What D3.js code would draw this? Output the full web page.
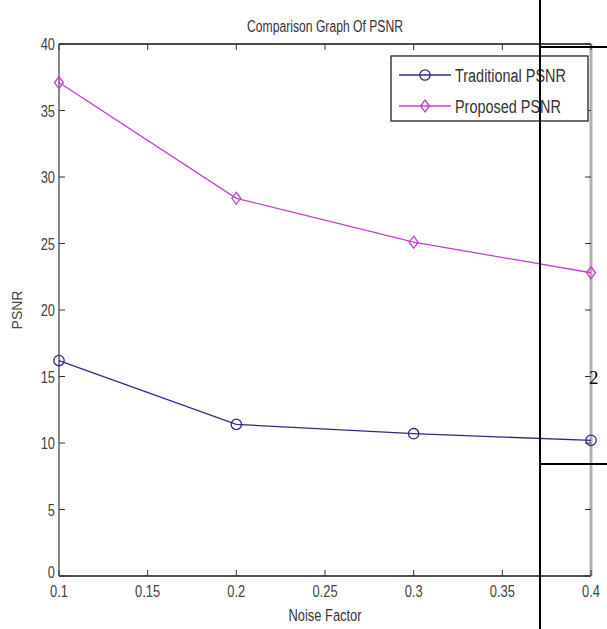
<!DOCTYPE html>
<html>
<head>
<meta charset="utf-8">
<script src="https://cdn.jsdelivr.net/npm/d3@7"></script>
<style>
  html, body { margin: 0; padding: 0; background: #fff; }
  svg { display: block; }
</style>
</head>
<body>
<script>
// chart values
const noiseFactor = [0.1, 0.2, 0.3, 0.4];
const traditionalPsnr = [16.2, 11.4, 10.7, 10.2];
const proposedPsnr = [37.1, 28.4, 25.1, 22.8];
const seriesNames = ['Traditional PSNR', 'Proposed PSNR'];
const xTicks = [0.1, 0.15, 0.2, 0.25, 0.3, 0.35, 0.4];
const yTicks = [0, 5, 10, 15, 20, 25, 30, 35, 40];

const width = 607;
const height = 629;
const plot = { left: 59, right: 591, top: 44, bottom: 576 };
const narrowFont = '"Liberation Sans", Arial, sans-serif';

const svg = d3.select('body').append('svg')
    .attr('width', width)
    .attr('height', height);

const x = d3.scaleLinear().domain([0.1, 0.4]).range([plot.left, plot.right]);
const y = d3.scaleLinear().domain([0, 40]).range([plot.bottom, plot.top]);

const tickColor = '#333';
const labelColor = '#444';

// Arial Narrow look-alike: squeeze Liberation Sans horizontally
function narrowText(parent, tx, ty, str, size, anchor, fill) {
    return parent.append('text')
        .attr('transform', `translate(${tx},${ty}) scale(0.76,1)`)
        .attr('font-family', narrowFont)
        .attr('font-size', size + 'px')
        .attr('text-anchor', anchor || 'start')
        .attr('fill', fill || labelColor)
        .text(str);
}

// box, MATLAB style
svg.append('line')
    .attr('x1', plot.left).attr('x2', plot.right)
    .attr('y1', plot.top).attr('y2', plot.top)
    .attr('stroke', '#111').attr('stroke-width', 1.5);
svg.append('line')
    .attr('x1', plot.left).attr('x2', plot.right)
    .attr('y1', plot.bottom).attr('y2', plot.bottom)
    .attr('stroke', '#111').attr('stroke-width', 1.5);
svg.append('line')
    .attr('x1', plot.left).attr('x2', plot.left)
    .attr('y1', plot.top).attr('y2', plot.bottom)
    .attr('stroke', '#888').attr('stroke-width', 2);
svg.append('line')
    .attr('x1', plot.right).attr('x2', plot.right)
    .attr('y1', plot.top).attr('y2', plot.bottom)
    .attr('stroke', '#b0b0b0').attr('stroke-width', 3);

// inward ticks on all four sides
const tickLen = 6;
const ticks = svg.append('g').attr('stroke', tickColor).attr('stroke-width', 1);
xTicks.forEach(t => {
    ticks.append('line').attr('x1', x(t)).attr('x2', x(t))
        .attr('y1', plot.bottom).attr('y2', plot.bottom - tickLen);
    ticks.append('line').attr('x1', x(t)).attr('x2', x(t))
        .attr('y1', plot.top).attr('y2', plot.top + tickLen);
});
yTicks.forEach(t => {
    ticks.append('line').attr('x1', plot.left).attr('x2', plot.left + tickLen)
        .attr('y1', y(t)).attr('y2', y(t));
    ticks.append('line').attr('x1', plot.right).attr('x2', plot.right - tickLen)
        .attr('y1', y(t)).attr('y2', y(t));
});

const xLabels = svg.append('g');
xTicks.forEach(t => {
    narrowText(xLabels, x(t), plot.bottom + 21, d3.format('~g')(t), 17, 'middle');
});

const yLabels = svg.append('g');
yTicks.forEach(t => {
    narrowText(yLabels, plot.left - 4, y(t) + (t === 0 ? 2 : 6), String(t), 17, 'end');
});

// titles
narrowText(svg, 325, 32, 'Comparison Graph Of PSNR', 16, 'middle', '#333');
narrowText(svg, 325, 621, 'Noise Factor', 17, 'middle', '#333');

svg.append('text')
    .attr('transform', 'translate(22,310) rotate(-90)')
    .attr('text-anchor', 'middle')
    .attr('font-family', '"Liberation Sans", Arial, sans-serif')
    .attr('font-size', '14px')
    .attr('fill', '#444')
    .text('PSNR');

// series
const series = [
    { name: seriesNames[0], values: traditionalPsnr, color: '#2c2c86', marker: 'circle' },
    { name: seriesNames[1], values: proposedPsnr, color: '#c040c8', marker: 'diamond' }
];

const line = d3.line()
    .x(d => x(d[0]))
    .y(d => y(d[1]));

const markerPath = type => {
    if (type === 'circle') {
        return d3.symbol().type(d3.symbolCircle).size(85)();
    }
    return 'M0,-6L4.5,0L0,6L-4.5,0Z';
};

series.forEach(s => {
    const pts = noiseFactor.map((n, i) => [n, s.values[i]]);
    svg.append('path')
        .datum(pts)
        .attr('fill', 'none')
        .attr('stroke', s.color)
        .attr('stroke-width', 1.3)
        .attr('d', line);
    svg.append('g')
        .selectAll('path')
        .data(pts)
        .enter().append('path')
        .attr('transform', d => `translate(${x(d[0])},${y(d[1])})`)
        .attr('d', markerPath(s.marker))
        .attr('fill', 'none')
        .attr('stroke', s.color)
        .attr('stroke-width', 1.3);
});

// legend
const legend = svg.append('g').attr('transform', 'translate(391,56)');
legend.append('rect')
    .attr('width', 197).attr('height', 65)
    .attr('fill', '#fff')
    .attr('stroke', '#222')
    .attr('stroke-width', 1.3);
series.forEach((s, i) => {
    const ly = 19 + i * 31;
    legend.append('line')
        .attr('x1', 8).attr('x2', 60)
        .attr('y1', ly).attr('y2', ly)
        .attr('stroke', s.color).attr('stroke-width', 1.3);
    legend.append('path')
        .attr('transform', `translate(34,${ly})`)
        .attr('d', markerPath(s.marker))
        .attr('fill', 'none')
        .attr('stroke', s.color)
        .attr('stroke-width', 1.3);
    narrowText(legend, 64, ly + 7, s.name, 19, 'start', '#333');
});

// black overlay lines and stray "2" from the source page
const overlay = svg.append('g').attr('stroke', '#000').attr('stroke-width', 2);
overlay.append('line').attr('x1', 540).attr('x2', 540).attr('y1', 0).attr('y2', height);
overlay.append('line').attr('x1', 540).attr('x2', width).attr('y1', 47).attr('y2', 47);
overlay.append('line').attr('x1', 540).attr('x2', width).attr('y1', 464).attr('y2', 464);

svg.append('text')
    .attr('x', 589).attr('y', 384)
    .attr('font-family', '"Liberation Serif", "Times New Roman", serif')
    .attr('font-size', '19px')
    .attr('fill', '#000')
    .text('2');
</script>
</body>
</html>
